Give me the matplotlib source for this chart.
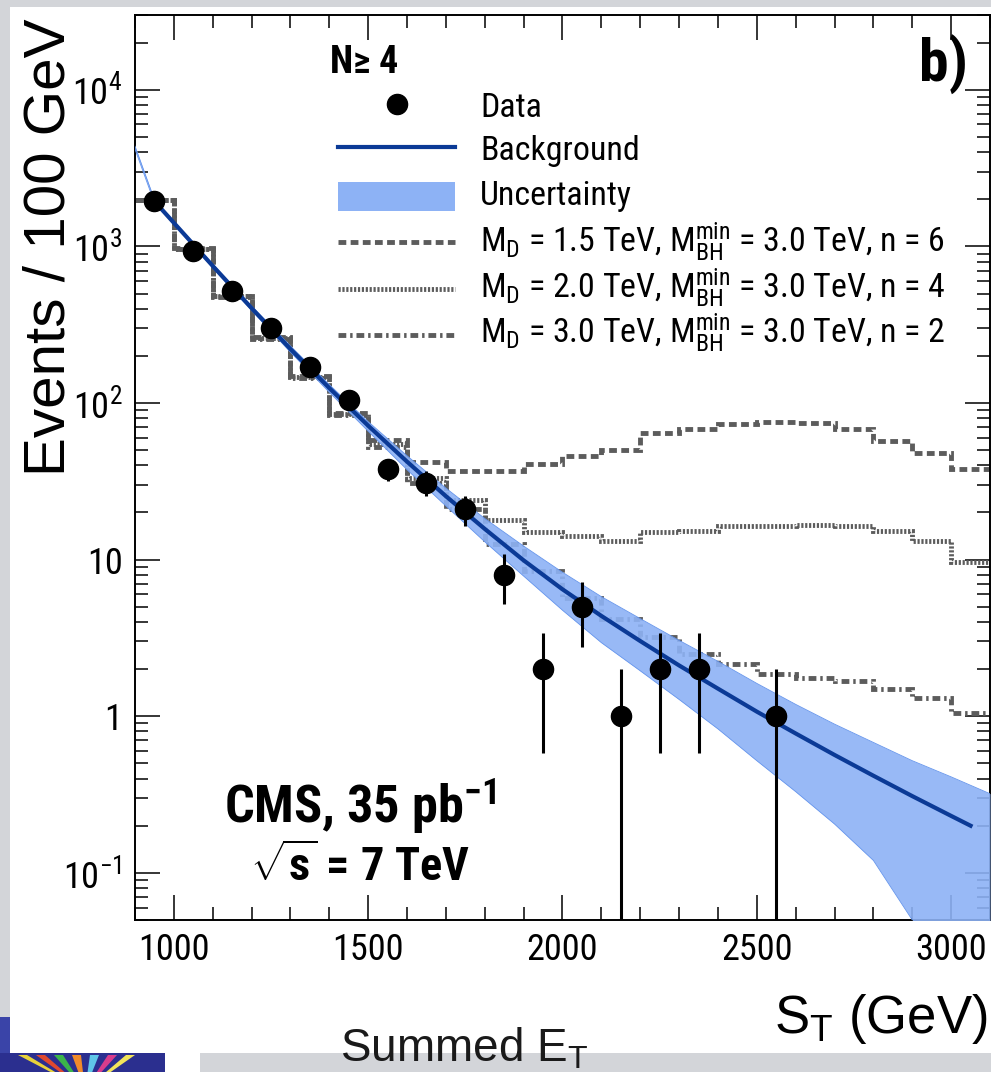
import numpy as np
import matplotlib
matplotlib.use('Agg')
import matplotlib.pyplot as plt
from matplotlib import font_manager as fm
from matplotlib.patches import Rectangle, Polygon
from matplotlib.ticker import FixedLocator, MultipleLocator, LogLocator, NullFormatter

# ---- data ----
bin_edges = [900, 1000, 1100, 1200, 1300, 1400, 1500, 1600, 1700, 1800, 1900, 2000,
             2100, 2200, 2300, 2400, 2500, 2600, 2700, 2800, 2900, 3000, 3100]

data_x = [950, 1050, 1150, 1250, 1350, 1450, 1550, 1650, 1750, 1850, 1950, 2050,
          2150, 2250, 2350, 2450, 2550]
data_y = [1950, 940, 520, 300, 170, 105, 38, 31, 21, 8, 2, 5, 1, 2, 2, 0, 1]

fit_x = [950, 1000, 1100, 1200, 1300, 1400, 1500, 1600, 1700, 1800, 1900, 2000,
         2100, 2200, 2300, 2400, 2500, 2600, 2700, 2800, 2900, 3000, 3050]
fit_y = [1941, 1413, 750, 403, 221, 124.5, 71.6, 42.2, 25.4, 15.7, 9.89, 6.46,
         4.37, 3.02, 2.11, 1.50, 1.07, 0.776, 0.566, 0.417, 0.309, 0.231, 0.200]

band_x = [900, 950, 1000, 1100, 1200, 1300, 1400, 1500, 1600, 1700, 1800, 1900,
          2000, 2100, 2200, 2300, 2400, 2500, 2600, 2700, 2800, 2900, 3000, 3100]
band_hi = [4360, 1986, 1445, 770, 416, 231, 131, 76, 46, 28.6, 18.3, 12.2,
           8.3, 5.8, 4.2, 3.05, 2.24, 1.62, 1.19, 0.89, 0.68, 0.52, 0.41, 0.32]
band_lo = [4170, 1897, 1380, 730, 390, 211, 117, 66, 37.5, 22.0, 13.0, 7.85,
           4.75, 2.95, 1.95, 1.28, 0.83, 0.52, 0.33, 0.205, 0.12, 0.050, 0.022, 0.0105]

# signal + background, M_D = 1.5 / 2.0 / 3.0 TeV
sig_md15 = [1990, 970, 485, 263, 148, 86, 58, 42, 37, 37, 41, 46, 50, 64, 68, 73,
            76, 75, 68, 57, 48, 38]
sig_md20 = [1990, 965, 480, 260, 146, 85, 55, 33, 24, 18, 15, 14.2, 13.1, 15, 15.3,
            16.3, 16.3, 16.7, 16.3, 15.3, 13.1, 9.7]
sig_md30 = [1980, 960, 478, 258, 145, 84, 52, 31, 21, 12.5, 8.4, 5.7, 4.2, 3.2, 2.5,
            2.16, 1.87, 1.75, 1.67, 1.49, 1.30, 1.05]

xtick_vals = [1000, 1500, 2000, 2500, 3000]
ytick_vals = [0.1, 1, 10, 100, 1000, 10000]
ytick_labels = [r'$\mathregular{10^{-1}}$', '1', '10', r'$\mathregular{10^{2}}$',
                r'$\mathregular{10^{3}}$', r'$\mathregular{10^{4}}$']

legend_labels = ['Data', 'Background', 'Uncertainty',
                 r'M$_\mathregular{D}$ = 1.5 TeV, M$_\mathregular{BH}^\mathregular{min}$ = 3.0 TeV, n = 6',
                 r'M$_\mathregular{D}$ = 2.0 TeV, M$_\mathregular{BH}^\mathregular{min}$ = 3.0 TeV, n = 4',
                 r'M$_\mathregular{D}$ = 3.0 TeV, M$_\mathregular{BH}^\mathregular{min}$ = 3.0 TeV, n = 2']


# ---- fonts: use a narrow face if one is installed ----
def font_ok(name):
    try:
        fm.findfont(fm.FontProperties(family=name), fallback_to_default=False)
        return True
    except Exception:
        return False


narrow = 'Liberation Sans'
for cand in ['Liberation Sans Narrow', 'Roboto Condensed', 'Arial Narrow']:
    if font_ok(cand):
        narrow = cand
        break

plt.rcParams['font.family'] = [narrow, 'Liberation Sans', 'DejaVu Sans']
plt.rcParams['mathtext.fontset'] = 'custom'
plt.rcParams['mathtext.rm'] = narrow
plt.rcParams['mathtext.bf'] = narrow + ':bold'
plt.rcParams['mathtext.it'] = narrow + ':italic'

W, H = 991, 1072
fig = plt.figure(figsize=(W / 100, H / 100), dpi=100, facecolor='#d3d5d9')


def fx(px):
    return px / W


def fy(py):
    return 1 - py / H


# white page behind the plot
fig.patches.append(Rectangle((fx(10), fy(1053)), fx(981), (1053 - 7) / H,
                             transform=fig.transFigure, facecolor='white',
                             edgecolor='none', zorder=-5))
fig.patches.append(Rectangle((fx(165), fy(1072)), fx(35), 19 / H,
                             transform=fig.transFigure, facecolor='white',
                             edgecolor='none', zorder=-5))
# rough CMS logo corner
fig.patches.append(Rectangle((0, fy(1072)), fx(165), 19 / H, transform=fig.transFigure,
                             facecolor='#2b2f8f', edgecolor='none', zorder=-4))
fig.patches.append(Rectangle((0, fy(1053)), fx(10), 36 / H, transform=fig.transFigure,
                             facecolor='#3a44a8', edgecolor='none', zorder=-4))
ray_cols = ['#e8d23a', '#e0492f', '#3bb54a', '#f08a2a', '#5fc6e8', '#d83c8c', '#f2e45a']
for i, c in enumerate(ray_cols):
    x0 = 18 + i * 18
    fig.patches.append(Polygon([(fx(85), fy(1090)), (fx(x0), fy(1055)), (fx(x0 + 9), fy(1055))],
                               closed=True, transform=fig.transFigure, facecolor=c,
                               edgecolor='none', zorder=-3))

ax = fig.add_axes([fx(135), fy(920), 855 / W, 905 / H])
ax.set_yscale('log')
ax.set_xlim(900, 3100)
ax.set_ylim(0.05, 3.0e4)

# signal histograms
gray = '#5c5c5c'
styles = [(0, (1.6, 0.9)), (0, (0.45, 0.35)), (0, (1.6, 0.8, 0.5, 0.8))]
for vals, ls in zip([sig_md15, sig_md20, sig_md30], styles):
    ax.stairs(vals, bin_edges, baseline=None, color=gray, lw=3.5, linestyle=ls, zorder=2)

# background fit and uncertainty
band_col = '#8db2f5'
ax.fill_between(band_x, band_lo, band_hi, color=band_col, alpha=0.9, lw=0, zorder=3)
ax.plot(band_x, band_hi, color='#6494ec', lw=0.6, zorder=3)
ax.plot(band_x, band_lo, color='#6494ec', lw=0.6, zorder=3)
ax.plot(fit_x, fit_y, color='#0b3a96', lw=3.0, zorder=4)

# data
dx = np.array(data_x, dtype=float)
dy = np.array(data_y, dtype=float)
m = dy > 0
ax.errorbar(dx[m], dy[m], yerr=np.sqrt(dy[m]), fmt='o', color='black', ms=14.5,
            elinewidth=2.2, capsize=0, zorder=5)

# axes cosmetics (ROOT-like)
for s in ax.spines.values():
    s.set_linewidth(1.4)
ax.xaxis.set_major_locator(FixedLocator(xtick_vals))
ax.xaxis.set_minor_locator(MultipleLocator(100))
ax.set_yticks(ytick_vals)
ax.set_yticklabels(ytick_labels)
ax.yaxis.set_minor_locator(LogLocator(base=10, subs=np.arange(2, 10)))
ax.yaxis.set_minor_formatter(NullFormatter())
ax.tick_params(which='both', direction='in', top=True, right=True, width=1.1)
ax.tick_params(which='major', length=18)
ax.tick_params(axis='x', which='major', pad=9)
ax.tick_params(axis='y', which='major', pad=9)
ax.tick_params(which='minor', length=9.5)


# legend drawn by hand in pixel positions
def ax_pt(px, py):
    return (px - 135) / 855, (920 - py) / 905


tr = ax.transAxes
x0, _ = ax_pt(338, 0)
x1, _ = ax_pt(455, 0)
xm, _ = ax_pt(397, 0)
xt, _ = ax_pt(480, 0)

_, y = ax_pt(0, 104)
ax.plot([xm], [y], 'o', color='black', ms=14.5, transform=tr, clip_on=False)
_, y = ax_pt(0, 147)
ax.plot([x0, x1], [y, y], color='#0b3a96', lw=3.0, transform=tr, clip_on=False)
_, ya = ax_pt(0, 211)
_, yb = ax_pt(0, 182)
ax.add_patch(Rectangle((x0, ya), x1 - x0, yb - ya, transform=tr, facecolor=band_col,
                       edgecolor='none', clip_on=False))
for py, ls in zip([242, 289, 335], styles):
    _, y = ax_pt(0, py)
    ax.plot([x0, x1], [y, y], color=gray, lw=3.5, linestyle=ls, transform=tr,
            clip_on=False)

leg_texts = []
for py, lab in zip([117, 160, 205, 252, 298, 343], legend_labels):
    _, y = ax_pt(0, py)
    leg_texts.append(ax.text(xt, y, lab, transform=tr, fontsize=26, ha='left',
                             va='baseline'))

_, y = ax_pt(0, 73)
xn, _ = ax_pt(330, 0)
t_n = ax.text(xn, y, 'N≥ 4', transform=tr, fontsize=22, fontweight='bold', ha='left',
              va='baseline')
_, y = ax_pt(0, 82)
xb, _ = ax_pt(968, 0)
t_b = ax.text(xb, y, 'b)', transform=tr, fontsize=46, fontweight='bold', ha='right',
              va='baseline')

xc, _ = ax_pt(360, 0)
_, y = ax_pt(0, 823)
t_cms = ax.text(xc, y, r'CMS, 35 pb$^{\mathbf{-1}}$', transform=tr, fontsize=38,
                fontweight='bold', ha='center', va='baseline')
_, y = ax_pt(0, 882)
t_rs = ax.text(xc, y, r'$\sqrt{\mathbf{s}}$ = 7 TeV', transform=tr, fontsize=38,
               fontweight='bold', ha='center', va='baseline')

# axis titles
wide = ['Liberation Sans', 'DejaVu Sans']
fig.text(fx(50), fy(247), 'Events / 100 GeV', rotation=90, ha='center', va='center',
         fontsize=42, family=wide)
fig.text(fx(988), fy(1033), r'S$_\mathregular{T}$ (GeV)', ha='right', va='baseline',
         fontsize=38, family=wide)
fig.text(fx(340), fy(1062), r'Summed E$_\mathregular{T}$', ha='left', va='baseline',
         fontsize=33, color='#1a1a1a', family=wide)

# size the narrow-font texts to the widths seen in the original
fig.canvas.draw()
rend = fig.canvas.get_renderer()


def fit_width(t, target):
    w = t.get_window_extent(renderer=rend).width
    t.set_fontsize(t.get_fontsize() * target / w)
    return t.get_fontsize()


leg_size = fit_width(leg_texts[3], 465)
for t in leg_texts:
    t.set_fontsize(leg_size)

probe = fig.text(0.5, 0.5, '1000', fontsize=27)
tick_size = fit_width(probe, 72)
probe.remove()
ax.tick_params(labelsize=tick_size)

fit_width(t_n, 68)
fit_width(t_cms, 272)
fit_width(t_rs, 220)
t_b.set_fontsize(46 * max(leg_size / 26.0, 0.9))

fig.savefig('out.png', dpi=100, facecolor=fig.get_facecolor())
